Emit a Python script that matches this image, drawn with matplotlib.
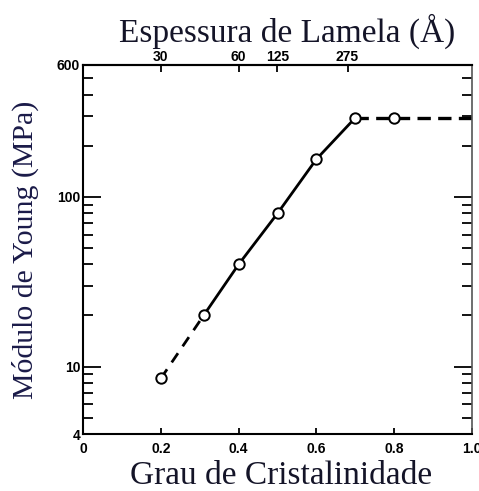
import matplotlib
matplotlib.use("Agg")
import matplotlib.pyplot as plt
from matplotlib.ticker import FixedLocator, NullFormatter

# Crystallinity (x) and Young's modulus in MPa (y)
crystallinity = [0.20, 0.31, 0.40, 0.50, 0.60, 0.70, 0.80]
modulus = [8.5, 20, 40, 80, 167, 293, 293]

# Extrapolated plateau out to full crystallinity
plateau_x = [0.70, 1.00]
plateau_y = [293, 293]

# Secondary (top) axis: lamella thickness in angstroms
lamella_pos = [0.20, 0.40, 0.50, 0.68]
lamella_labels = ["30", "60", "125", "275"]

x_ticks = [0.0, 0.2, 0.4, 0.6, 0.8, 1.0]
x_tick_labels = ["0", "0.2", "0.4", "0.6", "0.8", "1.0"]
y_major = [4, 10, 100, 600]
y_major_labels = ["4", "10", "100", "600"]
y_minor = [5, 6, 7, 8, 9, 20, 30, 40, 50, 60, 70, 80, 90, 200, 300, 400, 500]

W, H = 479, 491
fig = plt.figure(figsize=(W / 100, H / 100), dpi=100)
ax = fig.add_axes([83 / W, 1 - 434 / H, (472 - 83) / W, (434 - 65) / H])

tick_font = {"family": "Liberation Sans", "size": 10, "weight": "bold"}
title_font = {"family": "Liberation Serif", "size": 24}
ylabel_font = {"family": "Liberation Serif", "size": 21.5}
title_color = "#141428"
ylabel_color = "#1a1a48"

# dashed lead-in, solid fit through the middle points, dashed plateau
ax.plot(crystallinity[:2], modulus[:2], color="black", lw=2.0,
        dashes=(4, 3), zorder=2)
ax.plot(crystallinity[1:6], modulus[1:6], color="black", lw=2.0,
        solid_joinstyle="round", zorder=2)
ax.plot(plateau_x, plateau_y, color="black", lw=2.4, dashes=(4, 2.2),
        zorder=2)
ax.plot(crystallinity, modulus, linestyle="none", marker="o", ms=7.5,
        mfc="white", mec="black", mew=1.4, zorder=3)

ax.set_yscale("log")
ax.set_xlim(0, 1.0)
ax.set_ylim(4, 600)

ax.yaxis.set_major_locator(FixedLocator(y_major))
ax.set_yticklabels(y_major_labels, **tick_font)
ax.yaxis.set_minor_locator(FixedLocator(y_minor))
ax.yaxis.set_minor_formatter(NullFormatter())
ax.tick_params(axis="y", which="major", direction="in", length=13, width=1.3,
               right=True, pad=2)
ax.tick_params(axis="y", which="minor", direction="in", length=7, width=1.3,
               right=True)

ax.set_xticks(x_ticks)
ax.set_xticklabels(x_tick_labels, **tick_font)
ax.tick_params(axis="x", which="major", direction="in", length=4, width=1.3,
               pad=6)

top = ax.secondary_xaxis("top")
top.set_xticks(lamella_pos)
top.set_xticklabels(lamella_labels, **tick_font)
top.tick_params(axis="x", direction="in", length=5, width=1.3, pad=1)

for side in ("left", "bottom", "top"):
    ax.spines[side].set_linewidth(1.5)
ax.spines["right"].set_linewidth(1.2)
ax.spines["right"].set_color("#555555")
top.spines["top"].set_linewidth(1.5)

fig.text(287 / W, 1 - 31 / H, "Espessura de Lamela (Å)", ha="center",
         va="center", color=title_color, **title_font)
fig.text(281 / W, 1 - 476 / H, "Grau de Cristalinidade", ha="center",
         va="center", color=title_color, **title_font)
fig.text(25 / W, 1 - 250 / H, "Módulo de Young (MPa)", ha="center",
         va="center", rotation=90, color=ylabel_color, **ylabel_font)

fig.savefig("out.png", dpi=100)
